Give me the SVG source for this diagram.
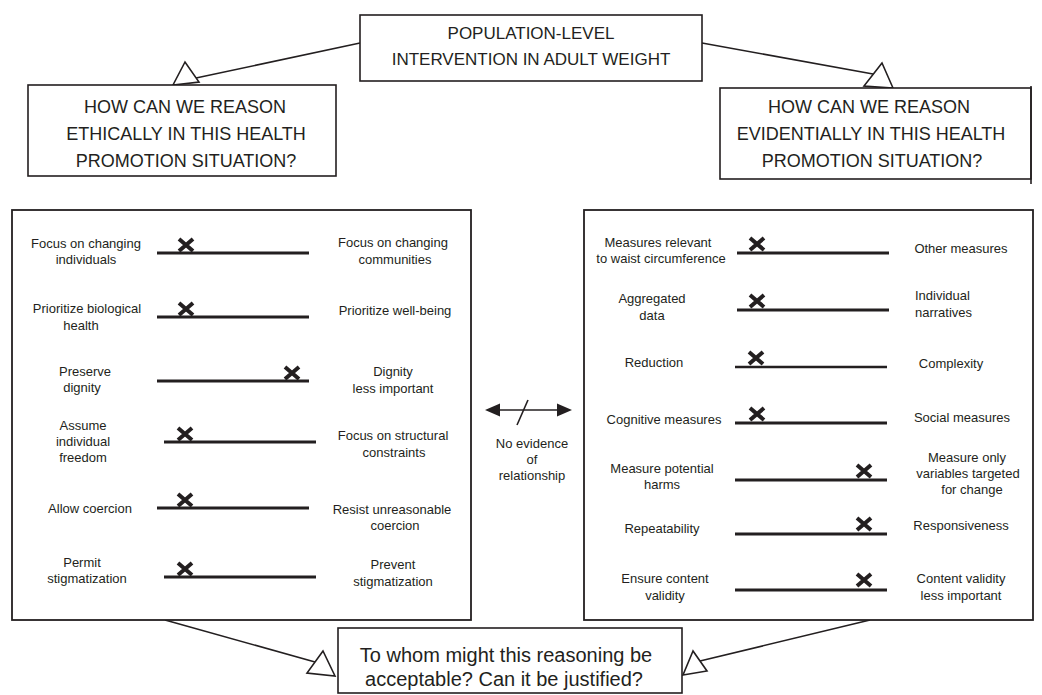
<svg xmlns="http://www.w3.org/2000/svg" width="1042" height="695" viewBox="0 0 1042 695">
<style>
  .box { fill: #ffffff; stroke: #231f20; stroke-width: 1.6; }
  .panel { fill: #ffffff; stroke: #231f20; stroke-width: 1.8; }
  .conn { fill: none; stroke: #231f20; stroke-width: 1.6; }
  .tri { fill: #ffffff; stroke: #231f20; stroke-width: 1.6; stroke-linejoin: miter; }
  .scale { stroke: #231f20; stroke-width: 3.2; }
  .mark { fill: none; stroke: #231f20; stroke-width: 4; stroke-linecap: butt; }
  text { font-family: "Liberation Sans", Arial, sans-serif; fill: #231f20; }
  .big { font-size: 17px; text-anchor: middle; }
  .q { font-size: 18px; text-anchor: middle; }
  .bottom { font-size: 20px; text-anchor: middle; }
  .lbl { font-size: 13px; text-anchor: middle; }
  .lbl-l { font-size: 13px; text-anchor: start; }
</style>
<defs>
  <path id="x" class="mark" d="M-7,-6 L7,6 M7,-6 L-7,6"/>
</defs>
<rect width="1042" height="695" fill="#ffffff"/>

<g id="connectors">
  <line class="conn" x1="360" y1="43" x2="196" y2="78"/>
  <polygon class="tri" points="185,62 173,85 199,82"/>
  <line class="conn" x1="702" y1="43" x2="873" y2="74"/>
  <polygon class="tri" points="882,63 864,86 893,88"/>
  <line class="conn" x1="165" y1="620" x2="315" y2="662"/>
  <polygon class="tri" points="323,651 307,673 335,676"/>
  <line class="conn" x1="870" y1="620" x2="700" y2="661"/>
  <polygon class="tri" points="693,651 683,675 707,671"/>
</g>

<g id="node-top">
  <rect class="box" x="360" y="15" width="342" height="66"/>
  <text class="big" x="531" y="39">POPULATION-LEVEL</text>
  <text class="big" x="531" y="65">INTERVENTION IN ADULT WEIGHT</text>
</g>

<g id="node-ethical-question">
  <rect class="box" x="28" y="85" width="308" height="91"/>
  <text class="q" x="185" y="113">HOW CAN WE REASON</text>
  <text class="q" x="186" y="140">ETHICALLY IN THIS HEALTH</text>
  <text class="q" x="186" y="167">PROMOTION SITUATION?</text>
</g>

<g id="node-evidential-question">
  <rect class="box" x="720" y="88" width="311" height="91"/>
  <line class="conn" x1="1031" y1="86" x2="1031" y2="184"/>
  <text class="q" x="869" y="113">HOW CAN WE REASON</text>
  <text class="q" x="871" y="140">EVIDENTIALLY IN THIS HEALTH</text>
  <text class="q" x="872" y="167">PROMOTION SITUATION?</text>
</g>

<g id="node-ethical-panel">
  <rect class="panel" x="12" y="210" width="459" height="410"/>
  <text class="lbl" x="86" y="248">Focus on changing</text>
  <text class="lbl" x="86" y="264">individuals</text>
  <line class="scale" x1="157" y1="253" x2="309" y2="253"/>
  <use href="#x" x="186" y="245"/>
  <text class="lbl" x="393" y="247">Focus on changing</text>
  <text class="lbl" x="395" y="264">communities</text>

  <text class="lbl" x="87" y="313">Prioritize biological</text>
  <text class="lbl" x="81" y="330">health</text>
  <line class="scale" x1="157" y1="317" x2="309" y2="317"/>
  <use href="#x" x="186" y="309"/>
  <text class="lbl" x="395" y="315">Prioritize well-being</text>

  <text class="lbl" x="85" y="376">Preserve</text>
  <text class="lbl" x="82" y="392">dignity</text>
  <line class="scale" x1="157" y1="381" x2="309" y2="381"/>
  <use href="#x" x="292" y="373"/>
  <text class="lbl" x="393" y="376">Dignity</text>
  <text class="lbl" x="393" y="393">less important</text>

  <text class="lbl" x="83" y="430">Assume</text>
  <text class="lbl" x="83" y="446">individual</text>
  <text class="lbl" x="83" y="462">freedom</text>
  <line class="scale" x1="164" y1="442" x2="316" y2="442"/>
  <use href="#x" x="185" y="434"/>
  <text class="lbl" x="393" y="440">Focus on structural</text>
  <text class="lbl" x="394" y="457">constraints</text>

  <text class="lbl" x="90" y="513">Allow coercion</text>
  <line class="scale" x1="157" y1="508" x2="309" y2="508"/>
  <use href="#x" x="185" y="500"/>
  <text class="lbl" x="392" y="514">Resist unreasonable</text>
  <text class="lbl" x="395" y="530">coercion</text>

  <text class="lbl" x="82" y="567">Permit</text>
  <text class="lbl" x="87" y="583">stigmatization</text>
  <line class="scale" x1="164" y1="577" x2="316" y2="577"/>
  <use href="#x" x="185" y="569"/>
  <text class="lbl" x="393" y="569">Prevent</text>
  <text class="lbl" x="393" y="586">stigmatization</text>
</g>

<g id="node-no-evidence">
  <line class="conn" x1="498" y1="410" x2="559" y2="410"/>
  <polygon points="485,410 500,403.5 500,416.5" fill="#231f20"/>
  <polygon points="572,410 557,403.5 557,416.5" fill="#231f20"/>
  <line class="conn" x1="528" y1="400" x2="517" y2="425"/>
  <text class="lbl" x="532" y="448">No evidence</text>
  <text class="lbl" x="532" y="464">of</text>
  <text class="lbl" x="532" y="480">relationship</text>
</g>

<g id="node-evidential-panel">
  <rect class="panel" x="584" y="210" width="449" height="410"/>
  <text class="lbl" x="658" y="247">Measures relevant</text>
  <text class="lbl" x="661" y="263">to waist circumference</text>
  <line class="scale" x1="737" y1="253" x2="889" y2="253"/>
  <use href="#x" x="757" y="244"/>
  <text class="lbl" x="961" y="253">Other measures</text>

  <text class="lbl" x="652" y="303">Aggregated</text>
  <text class="lbl" x="652" y="320">data</text>
  <line class="scale" x1="737" y1="310" x2="889" y2="310"/>
  <use href="#x" x="757" y="301"/>
  <text class="lbl-l" x="915" y="300">Individual</text>
  <text class="lbl-l" x="915" y="317">narratives</text>

  <text class="lbl" x="654" y="367">Reduction</text>
  <line class="scale" x1="735" y1="367" x2="887" y2="367" style="stroke-width:2.4"/>
  <use href="#x" x="756" y="358"/>
  <text class="lbl" x="951" y="368">Complexity</text>

  <text class="lbl" x="664" y="424">Cognitive measures</text>
  <line class="scale" x1="735" y1="423" x2="887" y2="423"/>
  <use href="#x" x="757" y="414"/>
  <text class="lbl" x="962" y="422">Social measures</text>

  <text class="lbl" x="662" y="473">Measure potential</text>
  <text class="lbl" x="662" y="489">harms</text>
  <line class="scale" x1="735" y1="480" x2="887" y2="480"/>
  <use href="#x" x="864" y="471"/>
  <text class="lbl" x="967" y="462">Measure only</text>
  <text class="lbl" x="968" y="478">variables targeted</text>
  <text class="lbl" x="972" y="494">for change</text>

  <text class="lbl" x="662" y="533">Repeatability</text>
  <line class="scale" x1="735" y1="534" x2="887" y2="534"/>
  <use href="#x" x="864" y="524"/>
  <text class="lbl" x="961" y="530">Responsiveness</text>

  <text class="lbl" x="665" y="583">Ensure content</text>
  <text class="lbl" x="665" y="600">validity</text>
  <line class="scale" x1="735" y1="590" x2="887" y2="590"/>
  <use href="#x" x="864" y="580"/>
  <text class="lbl" x="961" y="583">Content validity</text>
  <text class="lbl" x="961" y="600">less important</text>
</g>

<g id="node-bottom">
  <rect class="box" x="338" y="628" width="344" height="65"/>
  <text class="bottom" x="506" y="662">To whom might this reasoning be</text>
  <text class="bottom" x="504" y="686">acceptable? Can it be justified?</text>
</g>
</svg>
